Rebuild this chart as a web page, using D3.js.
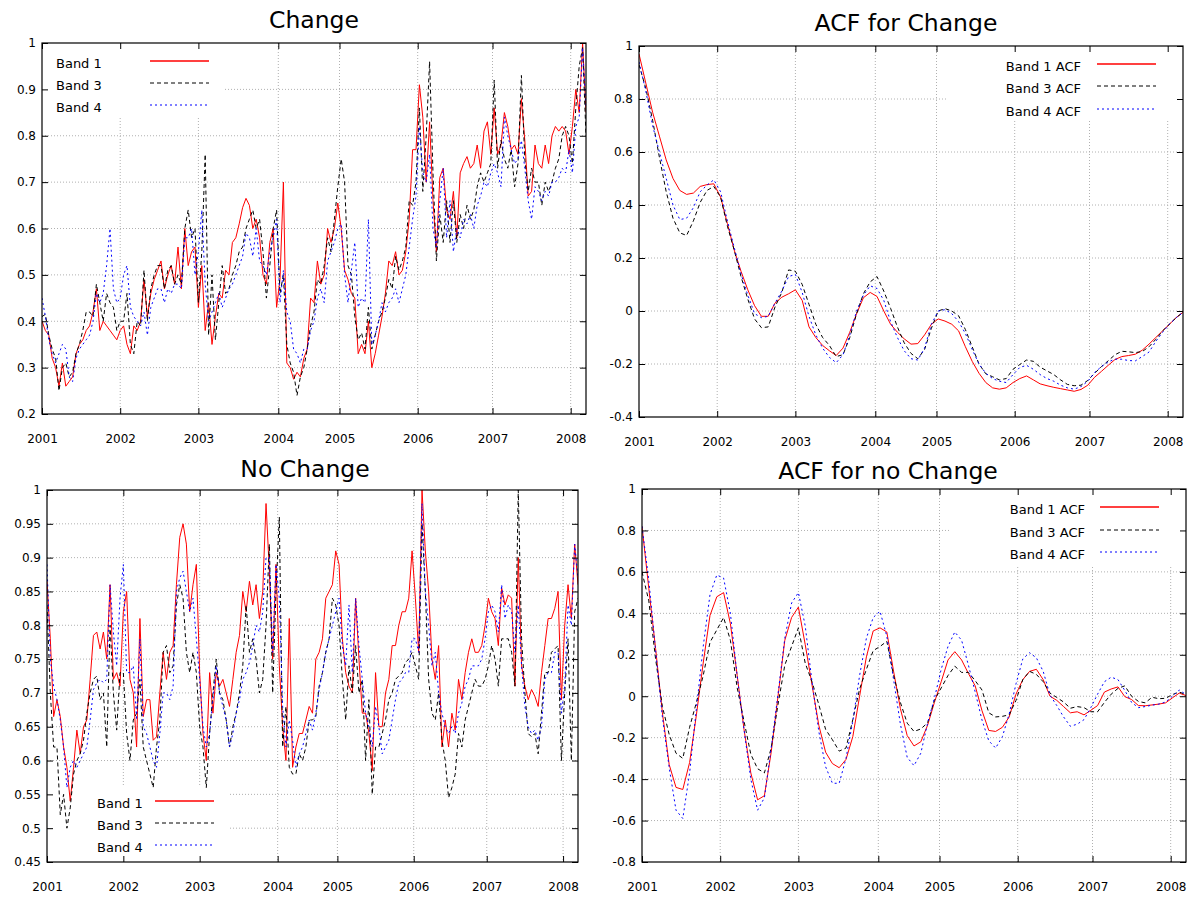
<!DOCTYPE html>
<html>
<head>
<meta charset="utf-8">
<script src="https://cdn.jsdelivr.net/npm/d3@7"></script>
<style>
  body { margin: 0; background: #fff; }
  svg { display: block; }
  text { font-family: 'DejaVu Sans', sans-serif; fill: #000; }
</style>
</head>
<body>
<div id="chart"></div>
<script>
// sample index = 8-day composite number since start of 2001 (2004 is short)
const weeks = d3.range(0, 321, 2);
const lags = d3.range(0, 321, 4);
const yearTicks = [0, 46, 92, 139, 175, 221, 265, 311];
const yearLabels = ['2001', '2002', '2003', '2004', '2005', '2006', '2007', '2008'];
const bandNames = ['Band 1', 'Band 3', 'Band 4'];
const acfNames = ['Band 1 ACF', 'Band 3 ACF', 'Band 4 ACF'];

const chgTicks = [0.2, 0.3, 0.4, 0.5, 0.6, 0.7, 0.8, 0.9, 1];
const acfChgTicks = [-0.4, -0.2, 0, 0.2, 0.4, 0.6, 0.8, 1];
const noChgTicks = [0.45, 0.5, 0.55, 0.6, 0.65, 0.7, 0.75, 0.8, 0.85, 0.9, 0.95, 1];
const acfNoTicks = [-0.8, -0.6, -0.4, -0.2, 0, 0.2, 0.4, 0.6, 0.8, 1];

// "Change" pixels
const chgBand1 = [
  0.40, 0.38, 0.37, 0.32, 0.30, 0.26, 0.31, 0.26, 0.27, 0.28,
  0.33, 0.35, 0.36, 0.38, 0.39, 0.42, 0.47, 0.38, 0.40, 0.39,
  0.38, 0.37, 0.36, 0.38, 0.39, 0.35, 0.33, 0.39, 0.38, 0.40,
  0.49, 0.41, 0.46, 0.49, 0.51, 0.53, 0.47, 0.50, 0.52, 0.48,
  0.56, 0.47, 0.60, 0.52, 0.55, 0.56, 0.43, 0.52, 0.38, 0.44,
  0.35, 0.41, 0.46, 0.45, 0.51, 0.50, 0.57, 0.58, 0.61, 0.645,
  0.665, 0.65, 0.60, 0.62, 0.58, 0.50, 0.48, 0.57, 0.60, 0.43,
  0.49, 0.70, 0.31, 0.30, 0.275, 0.29, 0.28, 0.32, 0.34, 0.45,
  0.44, 0.53, 0.48, 0.50, 0.60, 0.57, 0.60, 0.655, 0.60, 0.51,
  0.49, 0.46, 0.45, 0.33, 0.35, 0.33, 0.40, 0.30, 0.33, 0.37,
  0.41, 0.46, 0.53, 0.52, 0.55, 0.50, 0.51, 0.55, 0.62, 0.77,
  0.77, 0.91, 0.84, 0.70, 0.83, 0.66, 0.55, 0.71, 0.73, 0.64,
  0.62, 0.68, 0.58, 0.72, 0.74, 0.755, 0.73, 0.74, 0.78, 0.73,
  0.81, 0.83, 0.76, 0.86, 0.76, 0.78, 0.85, 0.82, 0.77, 0.78,
  0.76, 0.88, 0.79, 0.67, 0.68, 0.78, 0.74, 0.73, 0.78, 0.74,
  0.80, 0.82, 0.81, 0.82, 0.81, 0.76, 0.82, 0.90, 0.85, 1.0,
  0.85
];
const chgBand3 = [
  0.41, 0.415, 0.37, 0.34, 0.32, 0.25, 0.30, 0.31, 0.28, 0.29,
  0.33, 0.35, 0.38, 0.42, 0.42, 0.41, 0.48, 0.44, 0.40, 0.46,
  0.44, 0.43, 0.38, 0.40, 0.40, 0.46, 0.35, 0.33, 0.40, 0.39,
  0.51, 0.40, 0.47, 0.50, 0.52, 0.52, 0.47, 0.51, 0.52, 0.48,
  0.50, 0.48, 0.60, 0.64, 0.58, 0.60, 0.44, 0.55, 0.76, 0.37,
  0.50, 0.36, 0.44, 0.52, 0.46, 0.47, 0.50, 0.52, 0.55, 0.56,
  0.60, 0.62, 0.64, 0.60, 0.62, 0.55, 0.45, 0.52, 0.60, 0.64,
  0.46, 0.50, 0.35, 0.31, 0.29, 0.24, 0.28, 0.30, 0.34, 0.39,
  0.42, 0.49, 0.48, 0.52, 0.58, 0.55, 0.62, 0.69, 0.75, 0.70,
  0.52, 0.50, 0.41, 0.36, 0.375, 0.34, 0.43, 0.34, 0.37, 0.40,
  0.42, 0.45, 0.49, 0.47, 0.54, 0.51, 0.53, 0.56, 0.66, 0.65,
  0.70, 0.86, 0.68, 0.80, 0.96, 0.72, 0.53, 0.63, 0.57, 0.66,
  0.57, 0.66, 0.57, 0.63, 0.60, 0.65, 0.62, 0.64, 0.69, 0.72,
  0.70, 0.72, 0.74, 0.92, 0.73, 0.79, 0.75, 0.73, 0.77, 0.69,
  0.74, 0.93, 0.75, 0.68, 0.73, 0.70, 0.70, 0.65, 0.70, 0.68,
  0.70, 0.73, 0.75, 0.80, 0.82, 0.80, 0.74, 0.86, 0.95, 0.99,
  0.80
];
const chgBand4 = [
  0.45, 0.41, 0.36, 0.33, 0.31, 0.33, 0.35, 0.34, 0.28, 0.27,
  0.32, 0.34, 0.35, 0.36, 0.37, 0.40, 0.46, 0.44, 0.46, 0.52,
  0.60, 0.47, 0.44, 0.45, 0.50, 0.52, 0.43, 0.41, 0.40, 0.39,
  0.42, 0.37, 0.43, 0.45, 0.47, 0.47, 0.44, 0.47, 0.46, 0.48,
  0.48, 0.47, 0.58, 0.58, 0.60, 0.50, 0.55, 0.64, 0.48, 0.40,
  0.42, 0.44, 0.46, 0.43, 0.45, 0.47, 0.48, 0.50, 0.52, 0.54,
  0.59, 0.58, 0.54, 0.60, 0.53, 0.52, 0.50, 0.55, 0.58, 0.62,
  0.44, 0.51, 0.42, 0.40, 0.34, 0.33, 0.31, 0.34, 0.34, 0.38,
  0.40, 0.45, 0.47, 0.44, 0.53, 0.55, 0.57, 0.60, 0.61, 0.50,
  0.44, 0.51, 0.57, 0.43, 0.45, 0.44, 0.62, 0.35, 0.37, 0.40,
  0.44, 0.42, 0.44, 0.45, 0.47, 0.44, 0.47, 0.50, 0.56, 0.62,
  0.67, 0.82, 0.72, 0.70, 0.76, 0.60, 0.56, 0.66, 0.73, 0.58,
  0.66, 0.55, 0.60, 0.58, 0.62, 0.61, 0.63, 0.60, 0.65, 0.67,
  0.70, 0.69, 0.72, 0.74, 0.72, 0.69, 0.84, 0.80, 0.77, 0.74,
  0.75, 0.79, 0.73, 0.66, 0.62, 0.69, 0.68, 0.66, 0.68, 0.67,
  0.70, 0.70, 0.71, 0.73, 0.72, 0.77, 0.72, 0.82, 0.84, 0.99,
  0.86
];

// "No Change" pixels
const noBand1 = [
  0.865, 0.78, 0.665, 0.69, 0.665, 0.62, 0.59, 0.54, 0.59, 0.645,
  0.61, 0.65, 0.66, 0.72, 0.785, 0.79, 0.765, 0.79, 0.75, 0.86,
  0.72, 0.73, 0.71, 0.82, 0.85, 0.72, 0.70, 0.62, 0.81, 0.665,
  0.69, 0.69, 0.63, 0.635, 0.70, 0.76, 0.72, 0.76, 0.77, 0.86,
  0.93, 0.95, 0.92, 0.82, 0.86, 0.89, 0.73, 0.64, 0.60, 0.73,
  0.67, 0.73, 0.71, 0.72, 0.70, 0.68, 0.72, 0.76, 0.785, 0.85,
  0.82, 0.865, 0.83, 0.86, 0.81, 0.85, 0.98, 0.88, 0.75, 0.89,
  0.74, 0.65, 0.60, 0.81, 0.59, 0.62, 0.64, 0.64, 0.66, 0.68,
  0.67, 0.75, 0.76, 0.78, 0.84, 0.85, 0.86, 0.91, 0.89, 0.78,
  0.73, 0.71, 0.70, 0.84, 0.75, 0.67, 0.67, 0.64, 0.585, 0.73,
  0.65, 0.65, 0.70, 0.72, 0.77, 0.77, 0.80, 0.82, 0.82, 0.84,
  0.91, 0.84, 0.76, 1.0, 0.91, 0.85, 0.75, 0.72, 0.77, 0.62,
  0.66, 0.62, 0.67, 0.645, 0.72, 0.69, 0.73, 0.76, 0.78, 0.76,
  0.76, 0.77, 0.80, 0.84, 0.82, 0.81, 0.77, 0.855, 0.83, 0.845,
  0.84, 0.71, 0.90, 0.74, 0.71, 0.69, 0.705, 0.695, 0.68, 0.73,
  0.77, 0.81, 0.81, 0.825, 0.85, 0.69, 0.80, 0.86, 0.81, 0.92,
  0.86
];
const noBand3 = [
  0.83, 0.70, 0.62, 0.62, 0.52, 0.55, 0.50, 0.53, 0.58, 0.60,
  0.61, 0.63, 0.67, 0.70, 0.72, 0.725, 0.69, 0.70, 0.62, 0.80,
  0.70, 0.645, 0.73, 0.73, 0.64, 0.60, 0.66, 0.67, 0.72, 0.62,
  0.60, 0.58, 0.56, 0.62, 0.66, 0.76, 0.77, 0.73, 0.74, 0.83,
  0.86, 0.84, 0.76, 0.73, 0.76, 0.73, 0.65, 0.62, 0.56, 0.64,
  0.70, 0.75, 0.70, 0.69, 0.66, 0.62, 0.65, 0.67, 0.70, 0.74,
  0.83, 0.76, 0.78, 0.75, 0.70, 0.72, 0.80, 0.92, 0.70, 0.85,
  0.96, 0.62, 0.68, 0.59, 0.58, 0.58, 0.61, 0.60, 0.62, 0.66,
  0.66, 0.665, 0.71, 0.73, 0.76, 0.78, 0.84, 0.83, 0.80, 0.72,
  0.66, 0.74, 0.70, 0.77, 0.70, 0.72, 0.60, 0.69, 0.55, 0.62,
  0.62, 0.64, 0.66, 0.69, 0.70, 0.72, 0.725, 0.73, 0.745, 0.75,
  0.76, 0.74, 0.72, 0.95, 0.85, 0.72, 0.67, 0.66, 0.70, 0.63,
  0.60, 0.545, 0.56, 0.58, 0.64, 0.62, 0.66, 0.68, 0.70, 0.72,
  0.71, 0.71, 0.72, 0.74, 0.77, 0.75, 0.71, 0.78, 0.78, 0.78,
  0.76, 0.71, 1.0, 0.78, 0.70, 0.64, 0.635, 0.64, 0.61, 0.67,
  0.73, 0.73, 0.76, 0.765, 0.77, 0.60, 0.70, 0.78, 0.60, 0.82,
  0.84
];
const noBand4 = [
  0.89, 0.75, 0.71, 0.69, 0.66, 0.62, 0.56, 0.59, 0.60, 0.59,
  0.60, 0.61, 0.62, 0.66, 0.705, 0.715, 0.72, 0.715, 0.72, 0.86,
  0.79, 0.74, 0.84, 0.89, 0.73, 0.73, 0.74, 0.66, 0.78, 0.65,
  0.64, 0.62, 0.60, 0.59, 0.64, 0.70, 0.70, 0.69, 0.71, 0.85,
  0.87, 0.88, 0.85, 0.82, 0.84, 0.78, 0.72, 0.65, 0.62, 0.64,
  0.69, 0.74, 0.70, 0.68, 0.66, 0.62, 0.64, 0.67, 0.69, 0.72,
  0.73, 0.745, 0.77, 0.80, 0.79, 0.82, 0.90, 0.90, 0.76, 0.89,
  0.84, 0.68, 0.62, 0.66, 0.63, 0.59, 0.61, 0.62, 0.64, 0.66,
  0.645, 0.67, 0.705, 0.73, 0.76, 0.78, 0.80, 0.82, 0.84, 0.77,
  0.74, 0.83, 0.73, 0.84, 0.77, 0.72, 0.67, 0.65, 0.62, 0.68,
  0.65, 0.61, 0.62, 0.63, 0.66, 0.69, 0.715, 0.72, 0.73, 0.73,
  0.78, 0.78, 0.76, 0.98, 0.85, 0.80, 0.74, 0.76, 0.70, 0.67,
  0.65, 0.64, 0.65, 0.64, 0.67, 0.685, 0.71, 0.72, 0.74, 0.74,
  0.74, 0.75, 0.78, 0.82, 0.83, 0.82, 0.79, 0.86, 0.81, 0.83,
  0.82, 0.76, 0.83, 0.74, 0.68, 0.65, 0.64, 0.645, 0.63, 0.65,
  0.72, 0.73, 0.73, 0.76, 0.76, 0.67, 0.71, 0.83, 0.80, 0.92,
  0.87
];

// autocorrelation, lag in samples
const acfChgBand1 = [
  0.97, 0.86, 0.75, 0.66, 0.57, 0.50, 0.455, 0.44, 0.445, 0.47,
  0.477, 0.48, 0.43, 0.33, 0.23, 0.15, 0.08, 0.02, -0.02, -0.02,
  0.03, 0.052, 0.065, 0.08, 0.04, -0.06, -0.10, -0.13, -0.15, -0.168,
  -0.14, -0.08, -0.01, 0.05, 0.07, 0.055, 0.0, -0.05, -0.08, -0.105,
  -0.125, -0.123, -0.09, -0.05, -0.03, -0.038, -0.05, -0.075, -0.135, -0.19,
  -0.235, -0.27, -0.29, -0.295, -0.29, -0.27, -0.255, -0.245, -0.26, -0.275,
  -0.282, -0.288, -0.293, -0.298, -0.303, -0.296, -0.28, -0.25, -0.228, -0.205,
  -0.183, -0.172, -0.168, -0.163, -0.148, -0.125, -0.1, -0.075, -0.05, -0.025,
  -0.005
];
const acfChgBand3 = [
  0.93, 0.84, 0.72, 0.58, 0.45, 0.35, 0.295, 0.285, 0.34, 0.41,
  0.455, 0.47, 0.43, 0.32, 0.23, 0.13, 0.045, -0.03, -0.063, -0.06,
  0.015, 0.07, 0.155, 0.15, 0.10, 0.025, -0.05, -0.10, -0.13, -0.172,
  -0.165, -0.10, -0.01, 0.065, 0.11, 0.13, 0.075, 0.01, -0.06, -0.12,
  -0.16, -0.18, -0.145, -0.065, 0.0, 0.009, 0.0, -0.018, -0.07, -0.135,
  -0.2, -0.237, -0.248, -0.26, -0.255, -0.22, -0.202, -0.185, -0.19, -0.212,
  -0.226, -0.24, -0.26, -0.277, -0.282, -0.28, -0.262, -0.235, -0.21, -0.188,
  -0.165, -0.152, -0.154, -0.157, -0.153, -0.135, -0.107, -0.075, -0.05, -0.025,
  -0.005
];
const acfChgBand4 = [
  0.94, 0.83, 0.70, 0.60, 0.50, 0.40, 0.345, 0.35, 0.39, 0.45,
  0.475, 0.495, 0.45, 0.34, 0.24, 0.14, 0.06, -0.01, -0.025, -0.02,
  0.03, 0.075, 0.13, 0.138, 0.07, -0.02, -0.09, -0.14, -0.175, -0.195,
  -0.165, -0.09, 0.0, 0.06, 0.095, 0.085, 0.04, -0.04, -0.1, -0.15,
  -0.18, -0.185, -0.14, -0.05, 0.0, 0.005, -0.01, -0.04, -0.085, -0.145,
  -0.2, -0.235, -0.255, -0.265, -0.27, -0.24, -0.213, -0.205, -0.22, -0.24,
  -0.255, -0.265, -0.28, -0.29, -0.295, -0.285, -0.265, -0.232, -0.21, -0.192,
  -0.182, -0.182, -0.187, -0.188, -0.172, -0.155, -0.115, -0.08, -0.05, -0.025,
  -0.005
];
const acfNoBand1 = [
  0.82, 0.52, 0.23, -0.08, -0.33, -0.44, -0.45, -0.32, -0.09, 0.16,
  0.39, 0.48, 0.50, 0.35, 0.10, -0.16, -0.37, -0.50, -0.48, -0.27,
  0.0, 0.27, 0.38, 0.43, 0.25, 0.055, -0.14, -0.27, -0.325, -0.345,
  -0.305, -0.195, 0.0, 0.19, 0.315, 0.33, 0.31, 0.12, -0.06, -0.19,
  -0.24, -0.22, -0.14, -0.03, 0.07, 0.175, 0.215, 0.175, 0.11, 0.05,
  -0.07, -0.165, -0.17, -0.15, -0.10, 0.01, 0.08, 0.12, 0.13, 0.08,
  0.0, -0.02, -0.05, -0.08, -0.075, -0.09, -0.068, -0.045, 0.02, 0.035,
  0.045, -0.002, -0.016, -0.045, -0.046, -0.042, -0.038, -0.032, -0.008, 0.015,
  0.003
];
const acfNoBand3 = [
  0.60, 0.46, 0.18, -0.05, -0.185, -0.275, -0.30, -0.15, -0.03, 0.10,
  0.26, 0.32, 0.38, 0.27, 0.04, -0.12, -0.28, -0.35, -0.37, -0.25,
  -0.04, 0.15, 0.24, 0.33, 0.16, 0.07, -0.04, -0.16, -0.21, -0.265,
  -0.25, -0.113, 0.035, 0.13, 0.22, 0.24, 0.265, 0.10, -0.03, -0.13,
  -0.17, -0.158, -0.128, -0.02, 0.04, 0.10, 0.145, 0.115, 0.115, 0.075,
  0.03, -0.08, -0.1, -0.097, -0.09, -0.02, 0.08, 0.12, 0.105, 0.07,
  0.015, -0.006, -0.028, -0.058, -0.05, -0.055, -0.075, -0.075, -0.03, 0.01,
  0.038, 0.05, 0.0, -0.025, -0.032, -0.005, -0.012, -0.01, 0.008, 0.02,
  0.008
];
const acfNoBand4 = [
  0.82, 0.56, 0.22, -0.10, -0.345, -0.55, -0.59, -0.37, -0.06, 0.24,
  0.49, 0.585, 0.57, 0.40, 0.097, -0.16, -0.40, -0.55, -0.49, -0.25,
  0.01, 0.28, 0.45, 0.50, 0.34, 0.07, -0.17, -0.34, -0.42, -0.42,
  -0.30, -0.12, 0.10, 0.28, 0.38, 0.41, 0.29, 0.08, -0.135, -0.295,
  -0.335, -0.275, -0.13, -0.01, 0.13, 0.24, 0.31, 0.27, 0.15, 0.02,
  -0.115, -0.215, -0.25, -0.195, -0.085, 0.06, 0.18, 0.21, 0.185, 0.12,
  0.005, -0.045, -0.10, -0.145, -0.135, -0.113, -0.055, 0.01, 0.07, 0.092,
  0.08, 0.028, -0.03, -0.055, -0.05, -0.043, -0.038, -0.028, 0.0, 0.03,
  0.008
];

const lineStyles = [
  { stroke: '#ff0000', dash: null },
  { stroke: '#000000', dash: '4,3' },
  { stroke: '#0000ff', dash: '2,3' }
];

const panels = [
  { title: 'Change', titleX: 314, titleY: 28,
    left: 42, right: 586, top: 43, bottom: 414,
    yDomain: [0.2, 1], yTicks: chgTicks, xs: weeks,
    series: [chgBand1, chgBand3, chgBand4], names: bandNames,
    key: { box: [42, 43, 223, 118], textX: 56, anchor: 'start', lineX: [150, 209], rows: [63, 85, 107] } },
  { title: 'ACF for Change', titleX: 906, titleY: 31,
    left: 639, right: 1183, top: 46, bottom: 417,
    yDomain: [-0.4, 1], yTicks: acfChgTicks, xs: lags,
    series: [acfChgBand1, acfChgBand3, acfChgBand4], names: acfNames,
    key: { box: [948, 46, 1183, 120], textX: 1081, anchor: 'end', lineX: [1097, 1156], rows: [66, 88, 111] } },
  { title: 'No Change', titleX: 305, titleY: 477,
    left: 47, right: 578, top: 490, bottom: 862,
    yDomain: [0.45, 1], yTicks: noChgTicks, xs: weeks,
    series: [noBand1, noBand3, noBand4], names: bandNames,
    key: { box: [47, 787, 228, 862], textX: 97, anchor: 'start', lineX: [155, 214], rows: [803, 825, 847] } },
  { title: 'ACF for no Change', titleX: 888, titleY: 479,
    left: 642, right: 1186, top: 489, bottom: 862,
    yDomain: [-0.8, 1], yTicks: acfNoTicks, xs: lags,
    series: [acfNoBand1, acfNoBand3, acfNoBand4], names: acfNames,
    key: { box: [950, 489, 1186, 565], textX: 1085, anchor: 'end', lineX: [1100, 1159], rows: [509, 532, 554] } }
];

const svg = d3.select('#chart').append('svg')
  .attr('width', 1197)
  .attr('height', 897);

const defs = svg.append('defs');

function styleAxis(sel) {
  sel.attr('font-family', 'DejaVu Sans').attr('font-size', 12);
  sel.select('.domain').remove();
}

panels.forEach((p, idx) => {
  const x = d3.scaleLinear().domain([0, 320]).range([p.left, p.right]);
  const y = d3.scaleLinear().domain(p.yDomain).range([p.bottom, p.top]);
  const g = svg.append('g');

  g.append('text')
    .attr('x', p.titleX)
    .attr('y', p.titleY)
    .attr('text-anchor', 'middle')
    .attr('font-size', 23.5)
    .text(p.title);

  // dotted grid
  const grid = g.append('g')
    .attr('stroke', '#b0b0b0')
    .attr('stroke-width', 1)
    .attr('stroke-dasharray', '1,2');
  grid.selectAll('line.gy')
    .data(p.yTicks.slice(1, -1))
    .join('line').attr('class', 'gy')
    .attr('x1', p.left).attr('x2', p.right)
    .attr('y1', d => y(d)).attr('y2', d => y(d));
  grid.selectAll('line.gx')
    .data(yearTicks.slice(1))
    .join('line').attr('class', 'gx')
    .attr('x1', d => x(d)).attr('x2', d => x(d))
    .attr('y1', p.top).attr('y2', p.bottom);

  // key background hides the grid behind it
  const kb = p.key.box;
  g.append('rect')
    .attr('x', kb[0]).attr('y', kb[1])
    .attr('width', kb[2] - kb[0]).attr('height', kb[3] - kb[1])
    .attr('fill', '#fff');

  defs.append('clipPath').attr('id', 'clip' + idx)
    .append('rect')
    .attr('x', p.left).attr('y', p.top)
    .attr('width', p.right - p.left).attr('height', p.bottom - p.top);

  const plot = g.append('g').attr('clip-path', `url(#clip${idx})`);
  const line = d3.line()
    .x((d, i) => x(p.xs[i]))
    .y(d => y(d));

  p.series.forEach((vals, k) => {
    plot.append('path')
      .datum(vals)
      .attr('fill', 'none')
      .attr('stroke', lineStyles[k].stroke)
      .attr('stroke-width', 1)
      .attr('stroke-dasharray', lineStyles[k].dash)
      .attr('d', line);
  });

  // key
  p.names.forEach((name, k) => {
    const cy = p.key.rows[k];
    g.append('text')
      .attr('x', p.key.textX)
      .attr('y', cy + 4.5)
      .attr('text-anchor', p.key.anchor)
      .attr('font-size', 13)
      .text(name);
    g.append('line')
      .attr('x1', p.key.lineX[0]).attr('x2', p.key.lineX[1])
      .attr('y1', cy - 2).attr('y2', cy - 2)
      .attr('stroke', lineStyles[k].stroke)
      .attr('stroke-width', k === 0 ? 1.5 : 1)
      .attr('stroke-dasharray', lineStyles[k].dash);
  });

  // axes with inward ticks, mirrored on all sides
  g.append('g')
    .attr('transform', `translate(${p.left},0)`)
    .call(d3.axisLeft(y).tickValues(p.yTicks).tickFormat(d => String(d)).tickSize(-6).tickPadding(6))
    .call(styleAxis);
  g.append('g')
    .attr('transform', `translate(${p.right},0)`)
    .call(d3.axisRight(y).tickValues(p.yTicks).tickFormat('').tickSize(-6))
    .call(styleAxis);
  g.append('g')
    .attr('transform', `translate(0,${p.bottom})`)
    .call(d3.axisBottom(x).tickValues(yearTicks).tickFormat((d, i) => yearLabels[i]).tickSize(-6).tickPadding(20))
    .call(styleAxis);
  g.append('g')
    .attr('transform', `translate(0,${p.top})`)
    .call(d3.axisTop(x).tickValues(yearTicks).tickFormat('').tickSize(-6))
    .call(styleAxis);

  g.append('rect')
    .attr('x', p.left).attr('y', p.top)
    .attr('width', p.right - p.left).attr('height', p.bottom - p.top)
    .attr('fill', 'none')
    .attr('stroke', '#000')
    .attr('stroke-width', 1.2);
});
</script>
</body>
</html>
